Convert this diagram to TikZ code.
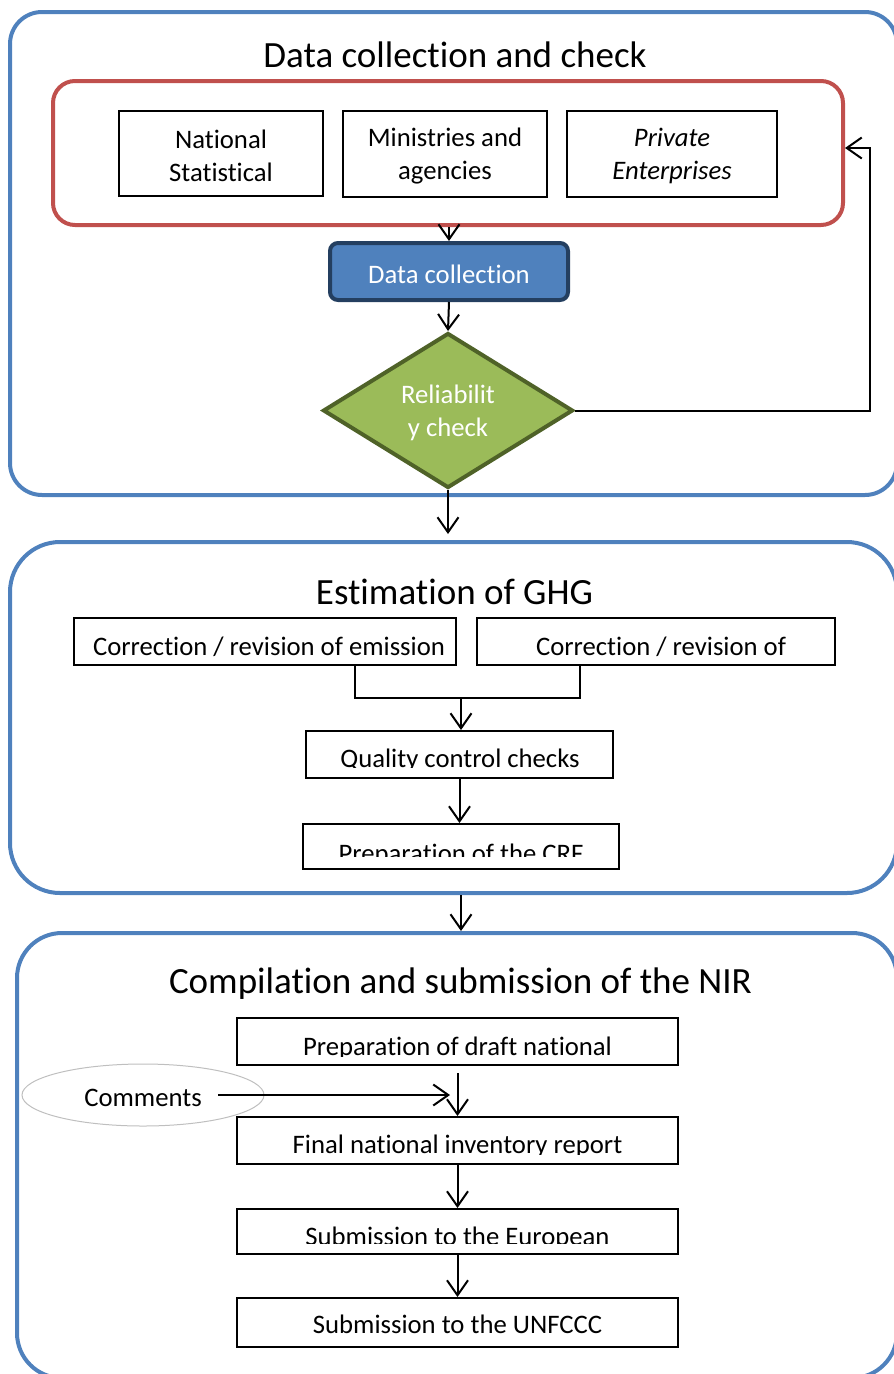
\documentclass[tikz,border=0pt]{standalone}
\usepackage{fontspec}
\setmainfont{Carlito}[Ligatures=NoCommon]
\usetikzlibrary{arrows.meta,shapes.geometric,fit}

\definecolor{panelblue}{HTML}{4F81BD}
\definecolor{groupred}{HTML}{C0504D}
\definecolor{dcborder}{HTML}{243F60}
\definecolor{checkfill}{HTML}{9BBB59}
\definecolor{checkborder}{HTML}{4F6228}
\definecolor{softgray}{HTML}{BFBFBF}

% framed step box with its text clipped to the text area
% #1 name, #2-#5 corners, #6 text x, #7 baseline, #8 clip bottom, #9 text
\newcommand\stepbox[9]{%
  \node[boxsty, fit={(#2,#3)(#4,#5)}] (#1) {};
  \begin{scope}
    \clip (#2,#3) rectangle (#4,#8);
    \node[txt, anchor=base] (#1-text) at (#6,#7) {#9};
  \end{scope}}

\begin{document}
\begin{tikzpicture}[x=1pt,y=-1pt,
  panel/.style={draw=panelblue, line width=4pt, rounded corners=#1, inner sep=0pt},
  boxsty/.style={draw=black, line width=2pt, inner sep=0pt},
  txt/.style={font=\fontsize{26.7}{33}\selectfont, inner sep=0pt},
  heading/.style={font=\fontsize{37}{44}\selectfont, inner sep=0pt, anchor=base},
  conn/.style={line width=2pt},
  arr/.style={conn, -{Straight Barb[length=15pt,width=21pt]}}]

\useasboundingbox (0,0) rectangle (894,1374);
\clip (0,0) rectangle (894,1374);

% ---------- stage 1: data collection and check ----------
\node[panel=32pt, fit={(10,12)(897,495)}] (p1) {};
\node[heading] (t1) at (455,67) {Data collection and check};
\node[draw=groupred, line width=4pt, rounded corners=22pt, inner sep=0pt,
      fit={(53,81)(843,225)}] (red) {};

\node[boxsty, fit={(119,111)(323,196)}] (n1) {};
\node[txt, align=center] (n1-text) at (221,156) {National\\Statistical};
\node[boxsty, fit={(343,111)(547,197)}] (n2) {};
\node[txt, align=center] (n2-text) at (445,156) {Ministries and\\agencies};
\node[boxsty, fit={(567,111)(777,197)}] (n3) {};
\node[txt, align=center, font=\fontsize{26.7}{33}\selectfont\itshape] (n3-text) at (672,156) {Private\\Enterprises};

\node[draw=dcborder, fill=panelblue, line width=4pt, rounded corners=8pt,
      inner sep=0pt, fit={(330,243)(568,300)}] (dc) {};
\node[txt, anchor=base, text=white] (dc-text) at (449,283) {Data collection};

\node[diamond, draw=checkborder, fill=checkfill, line width=4pt,
      minimum width=250pt, minimum height=155pt, inner sep=0pt] (dia) at (448,410.5) {};
\node[txt, align=center, text=white] (dia-text) at (448,413) {Reliabilit\\y check};

\coordinate (fb) at (870,300);
\draw[arr] (red.south -| dc.north) -- (dc.north);
\draw[arr] (dc.south) -- (dia.north);
\draw[arr] (dia.east) -- (dia.east -| fb) |- ([yshift=5pt]red.east);

% ---------- stage 2: estimation ----------
\node[panel=50pt, fit={(10,542)(897,893)}] (p2) {};
\node[heading] (t2) at (454.5,604) {Estimation of GHG};

\stepbox{ca}{74}{618}{456}{665}{269}{655}{665}{Correction / revision of emission}
\stepbox{cb}{477}{618}{835}{665}{661}{655}{665}{Correction / revision of}
\stepbox{qc}{306}{731}{613}{778}{460}{767}{767}{Quality control checks}
\stepbox{crf}{303}{824}{619}{869}{461}{862}{856}{Preparation of the CRF}

\coordinate (jn) at (461,698);
\draw[conn] ([xshift=90pt]ca.south) |- (jn) -| ([xshift=-76pt]cb.south);
\draw[arr] (jn) -- (jn |- qc.north);
\draw[arr] (qc.south) -- (qc.south |- crf.north);

\draw[arr, shorten >=6pt] (dia.south) -- (dia.south |- p2.north);

% ---------- stage 3: compilation and submission ----------
\node[panel=45pt, fit={(17,933)(897,1378)}] (p3) {};
\node[heading] (t3) at (460.5,993) {Compilation and submission of the NIR};

\stepbox{dr}{237}{1018}{678}{1065}{457.5}{1055}{1056}{Preparation of draft national}
\stepbox{fi}{237}{1117}{678}{1164}{457.5}{1153.5}{1154}{Final national inventory report}
\stepbox{eu}{237}{1209}{678}{1254}{457.5}{1245}{1243}{Submission to the European}
\stepbox{un}{237}{1298}{678}{1347}{457.5}{1333}{1347}{Submission to the UNFCCC}

\node[ellipse, draw=softgray, line width=1pt, minimum width=242pt,
      minimum height=62pt, inner sep=0pt] (cm) at (143,1095) {};
\node[txt, anchor=base] (cm-text) at (143,1106) {Comments};
\coordinate (ctip) at (450,1095);
\draw[arr] ([xshift=75pt]cm.center) -- (ctip);

\draw[arr] (crf.south |- p2.south) -- (crf.south |- p3.north);
\draw[arr, shorten <=7pt] (dr.south) -- (fi.north);
\draw[arr] (fi.south) -- (eu.north);
\draw[arr] (eu.south) -- (un.north);

\end{tikzpicture}
\end{document}
